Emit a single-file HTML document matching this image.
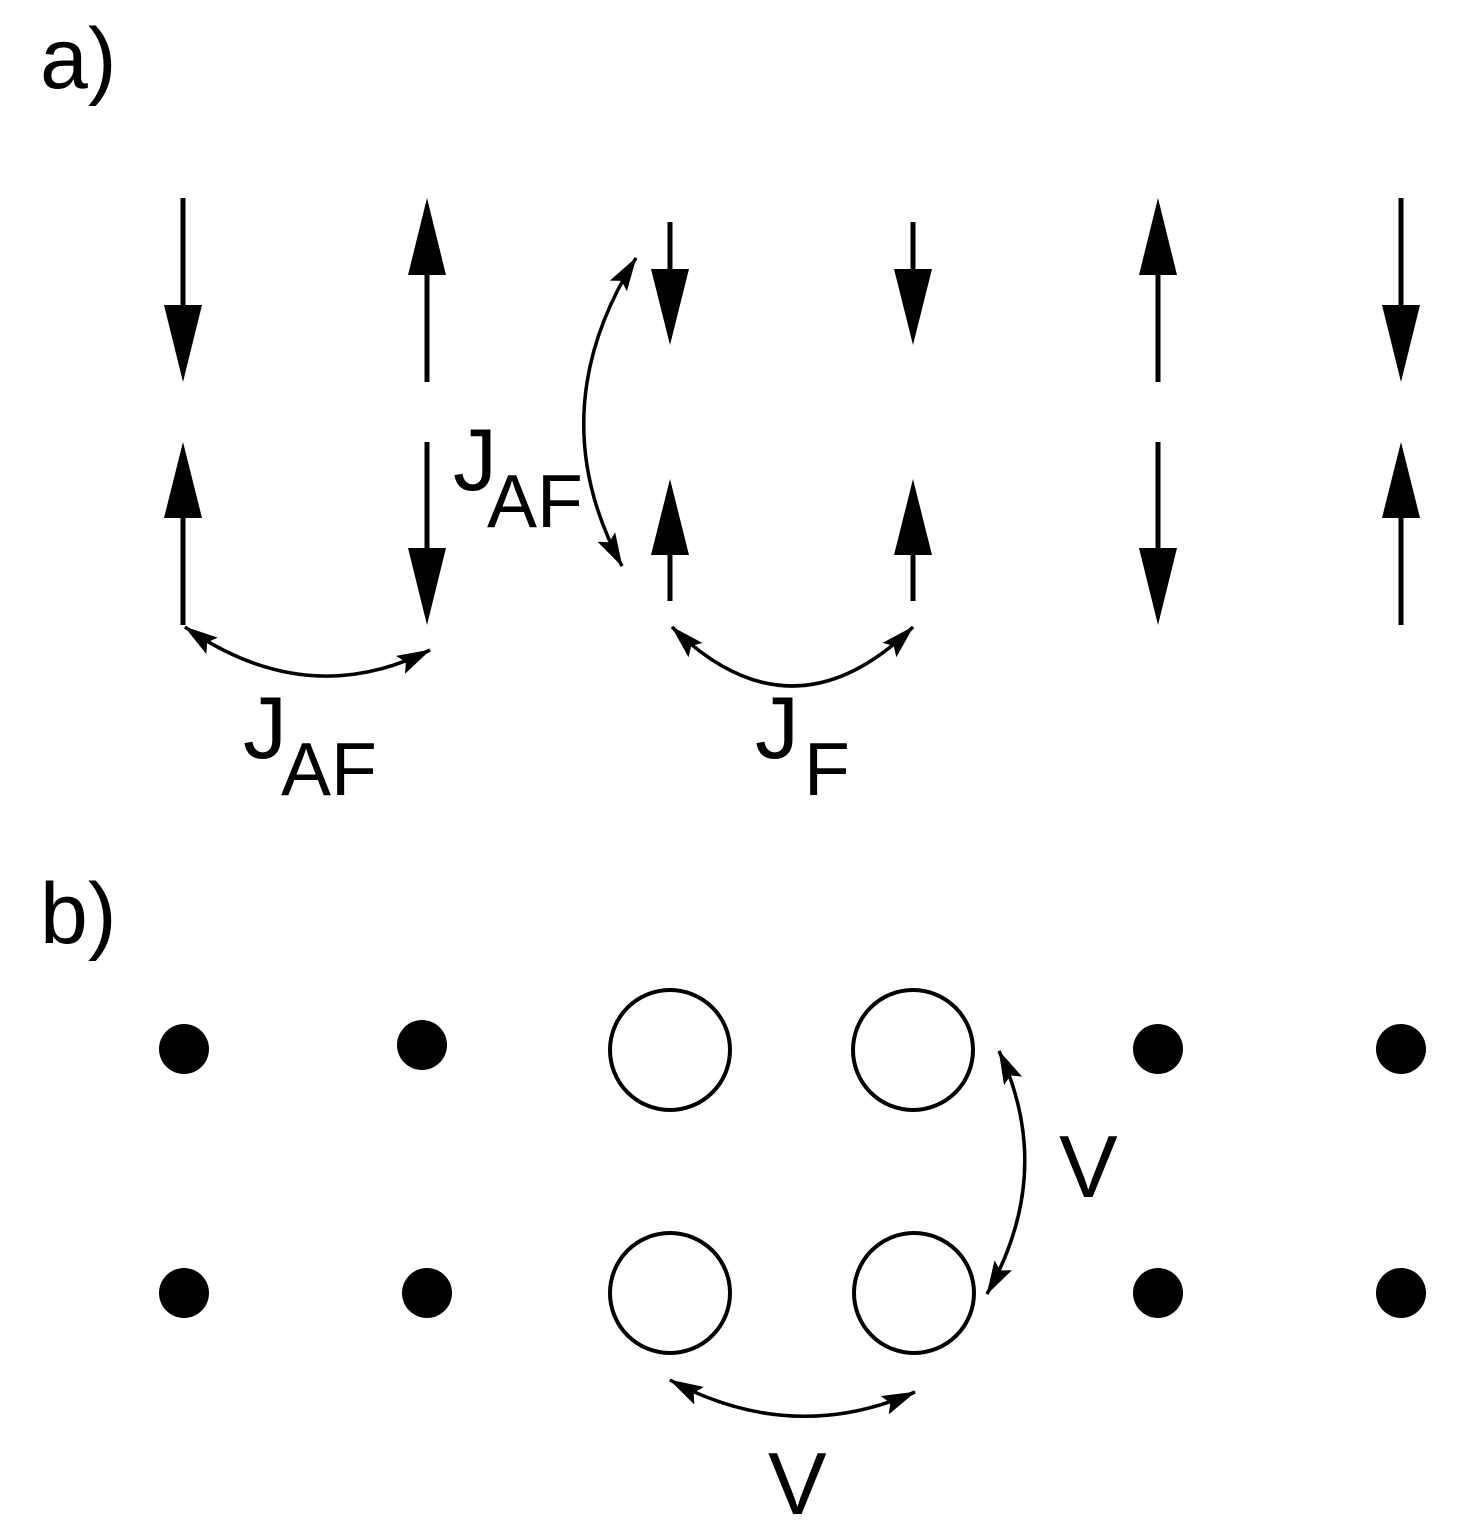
<!DOCTYPE html>
<html><head><meta charset="utf-8"><style>
html,body{margin:0;padding:0;background:#fff}
svg{display:block}
text{font-family:"Liberation Sans",Arial,sans-serif;fill:#000}
</style></head><body>
<svg width="1473" height="1539" viewBox="0 0 1473 1539" xmlns="http://www.w3.org/2000/svg">
<defs>
<marker id="ah" viewBox="0 0 34 20" refX="33" refY="10" markerWidth="34" markerHeight="20" markerUnits="userSpaceOnUse" orient="auto-start-reverse">
<path d="M0,0 L34,10 L0,20 L6,10 z" fill="#000"/>
</marker>
</defs>
<text x="40" y="88" font-size="86">a)</text>
<text x="40" y="943" font-size="86">b)</text>

<g stroke="#000" stroke-width="5" fill="none">
<line x1="183" y1="198" x2="183" y2="310"/>
<line x1="183" y1="515" x2="183" y2="625"/>
<line x1="427" y1="270" x2="427" y2="382"/>
<line x1="427" y1="442" x2="427" y2="552"/>
<line x1="670" y1="222" x2="670" y2="275"/>
<line x1="670" y1="550" x2="670" y2="601"/>
<line x1="913" y1="222" x2="913" y2="275"/>
<line x1="913" y1="550" x2="913" y2="601"/>
<line x1="1158" y1="270" x2="1158" y2="382"/>
<line x1="1158" y1="442" x2="1158" y2="552"/>
<line x1="1401" y1="198" x2="1401" y2="310"/>
<line x1="1401" y1="515" x2="1401" y2="625"/>
</g>
<g fill="#000">
<polygon points="164,305 202,305 183,382"/>
<polygon points="164,518 202,518 183,442"/>
<polygon points="408,275 446,275 427,198"/>
<polygon points="408,548 446,548 427,625"/>
<polygon points="651,269 689,269 670,345"/>
<polygon points="651,555 689,555 670,479"/>
<polygon points="894,269 932,269 913,345"/>
<polygon points="894,555 932,555 913,479"/>
<polygon points="1139,275 1177,275 1158,198"/>
<polygon points="1139,548 1177,548 1158,625"/>
<polygon points="1382,305 1420,305 1401,382"/>
<polygon points="1382,518 1420,518 1401,442"/>
</g>

<g stroke="#000" stroke-width="3.5" fill="none" marker-start="url(#ah)" marker-end="url(#ah)">
<path d="M185,627 Q307,712 430,650"/>
<path d="M672,627 Q792,745 913,627"/>
<path d="M636,258 Q539,412 622,566"/>
<path d="M999,1051 Q1056,1172 987,1294"/>
<path d="M670,1380 Q792,1446 915,1392"/>
</g>

<text x="453" y="490" font-size="88">J</text>
<text x="487" y="527" font-size="75">AF</text>
<text x="243" y="758" font-size="88">J</text>
<text x="281" y="795" font-size="75">AF</text>
<text x="755" y="758" font-size="88">J</text>
<text x="804" y="795" font-size="75">F</text>

<g fill="#000">
<circle cx="184" cy="1049" r="25"/>
<circle cx="422" cy="1045" r="25"/>
<circle cx="1158" cy="1049" r="25"/>
<circle cx="1401" cy="1049" r="25"/>
<circle cx="184" cy="1293" r="25"/>
<circle cx="427" cy="1293" r="25"/>
<circle cx="1158" cy="1293" r="25"/>
<circle cx="1401" cy="1293" r="25"/>
</g>
<g fill="none" stroke="#000" stroke-width="4">
<circle cx="670" cy="1050" r="60"/>
<circle cx="913" cy="1050" r="60"/>
<circle cx="670" cy="1293" r="60"/>
<circle cx="914" cy="1293" r="60"/>
</g>
<text x="1059" y="1197" font-size="88">V</text>
<text x="768" y="1514" font-size="88">V</text>
</svg>
</body></html>
